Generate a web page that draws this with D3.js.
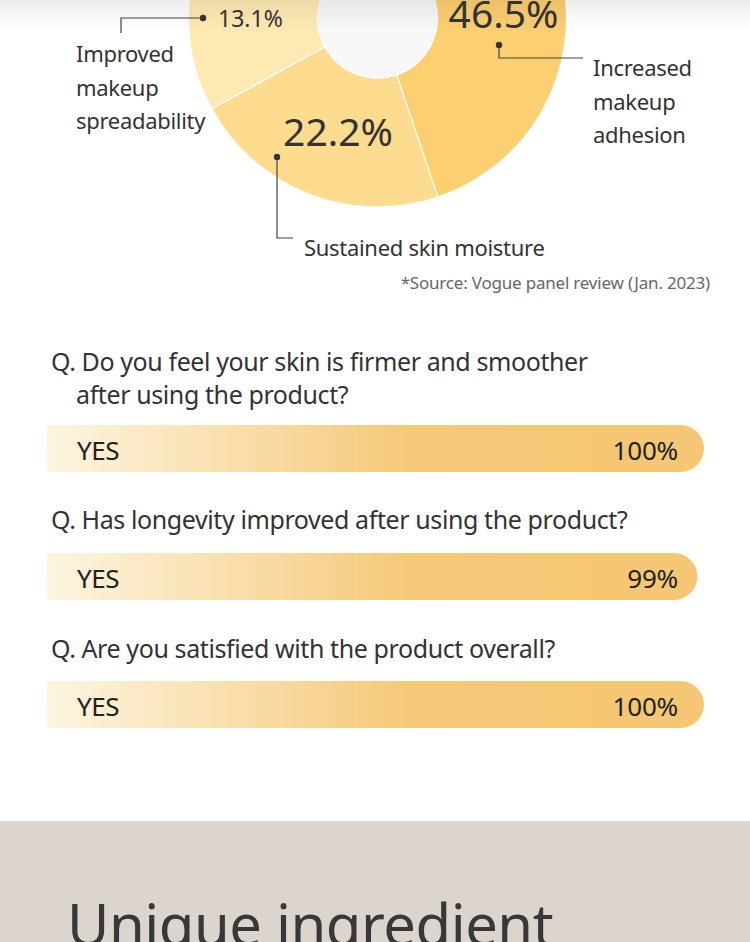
<!DOCTYPE html>
<html>
<head>
<meta charset="utf-8">
<script src="https://cdn.jsdelivr.net/npm/d3@7"></script>
<style>
  html,body{margin:0;padding:0;background:#fff;}
  svg{display:block;}
  text{font-family:"Noto Sans",sans-serif;}
</style>
</head>
<body>
<svg id="chart" width="750" height="942"></svg>
<script>
// ---------- DATA ----------
const sliceNames  = ["Increased makeup adhesion", "Sustained skin moisture", "Improved makeup spreadability", "Other"];
const sliceValues = [46.5, 22.2, 13.1, 18.2];
const sliceColors = ["#fccf71", "#fddb8f", "#fee9b3", "#fff1cf"];

const questions   = [
  ["Q. Do you feel your skin is firmer and smoother", "after using the product?"],
  ["Q. Has longevity improved after using the product?"],
  ["Q. Are you satisfied with the product overall?"]
];
const answerLabels = ["YES", "YES", "YES"];
const answerValues = [100, 99, 100];

const sourceNote = "*Source: Vogue panel review (Jan. 2023)";
const sectionTitle = "Unique ingredient";

// ---------- LAYOUT ----------
const W = 750, H = 942;
const svg = d3.select("#chart");
const defs = svg.append("defs");

const cx = 377.5, cy = 18, R = 189, r0 = 60;
const textColor = "#333";

// Donut
const startDeg = -6;
const pie = d3.pie().sort(null).value(d => d)
  .startAngle(startDeg * Math.PI / 180).endAngle((360 + startDeg) * Math.PI / 180);
const arcs = pie(sliceValues);
const arc = d3.arc().innerRadius(r0).outerRadius(R);

const gPie = svg.append("g").attr("transform", `translate(${cx},${cy})`);
gPie.append("circle").attr("r", r0).attr("fill", "#f8f8f8");
gPie.selectAll("path").data(arcs).join("path")
  .attr("d", arc)
  .attr("fill", (d, i) => sliceColors[i])
  .attr("stroke", "#fff").attr("stroke-width", 1.2);

// Top shadow band
const sh = defs.append("linearGradient").attr("id", "topShade").attr("x1", 0).attr("y1", 0).attr("x2", 0).attr("y2", 1);
sh.append("stop").attr("offset", 0).attr("stop-color", "#000").attr("stop-opacity", 0.07);
sh.append("stop").attr("offset", 1).attr("stop-color", "#000").attr("stop-opacity", 0);
svg.append("rect").attr("x", 0).attr("y", 0).attr("width", W).attr("height", 32).attr("fill", "url(#topShade)");

// Annotations (percent labels + leader lines + names)
const lineColor = "#444";
const ann = [
  { // 46.5
    pct: { x: 503.5, y: 12, size: 39, anchor: "middle" },
    dot: [499, 45],
    path: [[499, 45], [499, 58], [583, 58]],
    name: { x: 593, y: 67, lines: ["Increased", "makeup", "adhesion"], anchor: "start" }
  },
  { // 22.2
    pct: { x: 338, y: 130, size: 39, anchor: "middle" },
    dot: [277, 157],
    path: [[277, 157], [277, 238], [293, 238]],
    name: { x: 304, y: 247, lines: ["Sustained skin moisture"], anchor: "start" }
  },
  { // 13.1
    pct: { x: 218, y: 18, size: 23, anchor: "start" },
    dot: [203, 18],
    path: [[203, 18], [121, 18], [121, 33]],
    name: { x: 76, y: 53, lines: ["Improved", "makeup", "spreadability"], anchor: "start" }
  }
];
const line = d3.line();
ann.forEach((a, i) => {
  svg.append("path").attr("d", line(a.path)).attr("fill", "none")
    .attr("stroke", lineColor).attr("stroke-width", 1.2);
  svg.append("circle").attr("cx", a.dot[0]).attr("cy", a.dot[1]).attr("r", 3.2).attr("fill", "#333");
  svg.append("text").attr("x", a.pct.x).attr("y", a.pct.y)
    .attr("text-anchor", a.pct.anchor).attr("dominant-baseline", "central")
    .attr("font-size", a.pct.size).attr("fill", textColor)
    .text(d3.format(".1f")(sliceValues[i]) + "%");
  a.name.lines.forEach((t, k) => {
    svg.append("text").attr("x", a.name.x).attr("y", a.name.y + k * 33.5)
      .attr("dominant-baseline", "central").attr("text-anchor", a.name.anchor)
      .attr("font-size", 22).attr("fill", textColor).attr("letter-spacing", -0.3)
      .text(t);
  });
});

svg.append("text").attr("x", 710).attr("y", 282)
  .attr("text-anchor", "end").attr("dominant-baseline", "central")
  .attr("font-size", 17).attr("fill", "#666").attr("letter-spacing", -0.2)
  .text(sourceNote);

// ---------- BARS ----------
const barGrad = defs.append("linearGradient").attr("id", "barGrad")
  .attr("gradientUnits", "userSpaceOnUse").attr("x1", 47).attr("x2", 704).attr("y1", 0).attr("y2", 0);
barGrad.append("stop").attr("offset", 0).attr("stop-color", "#fdf5e1");
barGrad.append("stop").attr("offset", 0.55).attr("stop-color", "#f5c979");
barGrad.append("stop").attr("offset", 1).attr("stop-color", "#f5c673");

const x = d3.scaleLinear().domain([0, 100]).range([47, 704]);
const barH = 47;
const qTop = [361, 519, 648];      // centre of first question line
const barTop = [425, 553, 681];

questions.forEach((q, i) => {
  q.forEach((t, k) => {
    svg.append("text").attr("x", k === 0 ? 51 : 76).attr("y", qTop[i] + k * 33)
      .attr("dominant-baseline", "central")
      .attr("font-size", 25).attr("fill", textColor).attr("letter-spacing", -0.4)
      .text(t);
  });
  const x0 = x(0), x1 = x(answerValues[i]), y0 = barTop[i], rr = barH / 2;
  const p = d3.path();
  p.moveTo(x0, y0);
  p.lineTo(x1 - rr, y0);
  p.arc(x1 - rr, y0 + rr, rr, -Math.PI / 2, Math.PI / 2);
  p.lineTo(x0, y0 + barH);
  p.closePath();
  svg.append("path").attr("d", p.toString()).attr("fill", "url(#barGrad)");
  svg.append("text").attr("x", 77).attr("y", y0 + rr + 1)
    .attr("dominant-baseline", "central").attr("font-size", 26).attr("fill", "#222")
    .attr("letter-spacing", -0.4)
    .text(answerLabels[i]);
  svg.append("text").attr("x", 678).attr("y", y0 + rr + 1)
    .attr("dominant-baseline", "central").attr("text-anchor", "end")
    .attr("font-size", 26).attr("fill", "#222").attr("letter-spacing", -0.2)
    .text(answerValues[i] + "%");
});

// ---------- BOTTOM SECTION ----------
svg.append("rect").attr("x", 0).attr("y", 821).attr("width", W).attr("height", H - 821).attr("fill", "#dcd5ce");
svg.append("text").attr("x", 67).attr("y", 946)
  .attr("font-size", 58).attr("fill", "#383838").attr("letter-spacing", -0.5)
  .text(sectionTitle);
</script>
</body>
</html>
